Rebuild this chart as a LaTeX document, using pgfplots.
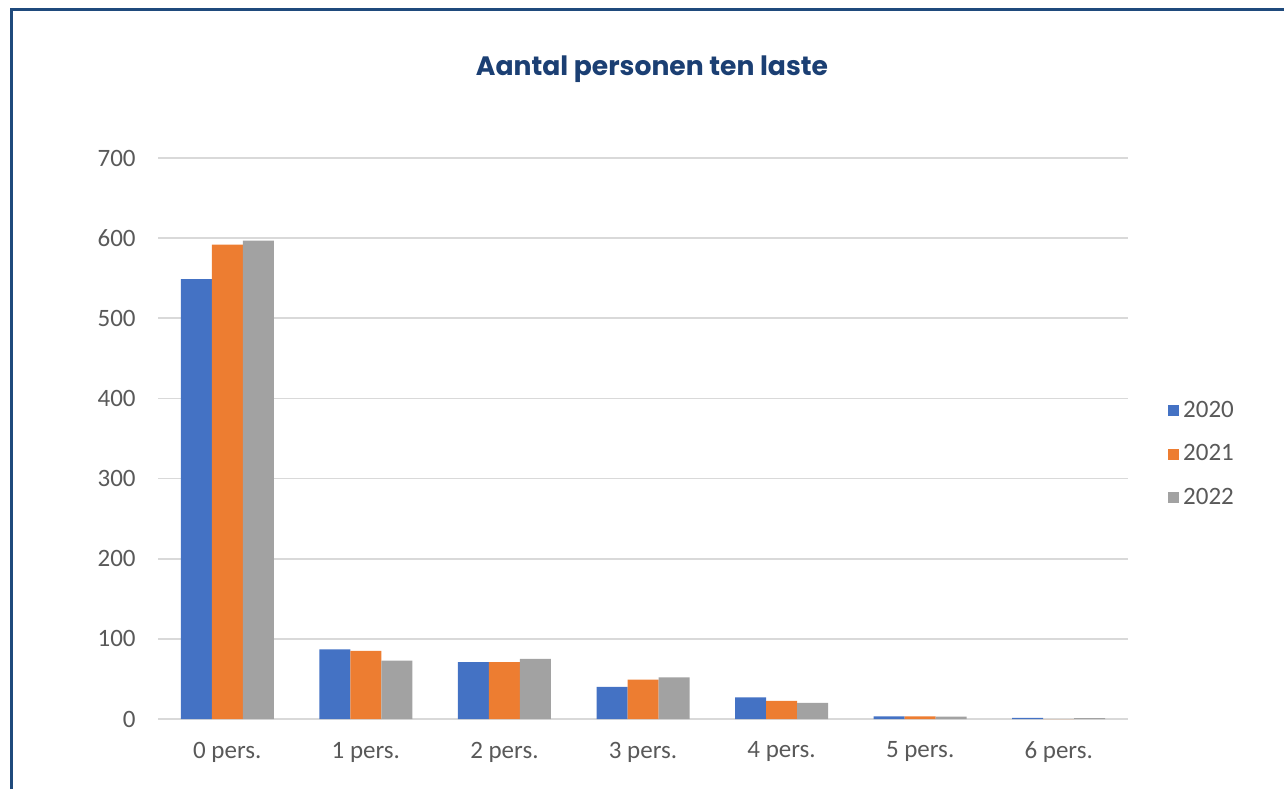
\documentclass[border=0pt]{standalone}
\usepackage{pgfplots}
\pgfplotsset{compat=1.18}
\usepackage{fontspec}
\setmainfont{Carlito}
\newfontfamily\titlefont{Poppins}
\definecolor{cblue}{HTML}{4472C4}
\definecolor{corange}{HTML}{ED7D31}
\definecolor{cgray}{HTML}{A2A2A2}
\definecolor{grid}{HTML}{D9D9D9}
\definecolor{txt}{HTML}{595959}
\definecolor{navy}{HTML}{1B3F73}
\definecolor{frame}{HTML}{1F4A7C}
\begin{document}
\begin{tikzpicture}
\draw[line width=1.5pt, color=frame] (5.75pt,0pt) -- (5.75pt,389.5pt) -- (642pt,389.5pt);
\node[font=\titlefont\bfseries\fontsize{13.3}{15}\selectfont, text=navy] at (326pt,360pt) {Aantal personen ten laste};
\begin{axis}[
  at={(79pt,35pt)}, anchor=south west,
  scale only axis, width=485pt, height=280.5pt,
  ybar=0pt, bar width=15.5pt,
  xmin=-0.5, xmax=6.5, ymin=0, ymax=700,
  ytick={0,100,...,700},
  xtick=data,
  xticklabels={0 pers.,1 pers.,2 pers.,3 pers.,4 pers.,5 pers.,6 pers.},
  axis line style={draw=none},
  major tick style={draw=none},
  ymajorgrids, grid style={color=grid, line width=0.8pt},
  /pgf/number format/assume math mode=true,
  ticklabel style={font=\fontsize{12.5}{14}\selectfont, text=txt},
  yticklabel style={inner sep=0pt, xshift=-11pt},
  xticklabel style={inner sep=0pt, yshift=-7pt},
  legend style={at={(1.041,0.472)}, anchor=west, draw=none, fill=none,
    font=\fontsize{12.5}{14}\selectfont, text=txt, row sep=8pt,
    inner sep=0pt},
  legend cell align=left,
  legend image code/.code={\fill[#1] (0pt,-2.75pt) rectangle (5.5pt,2.75pt);},
]
\addplot[fill=cblue, draw=none] coordinates {(0,549) (1,87) (2,71) (3,40) (4,27) (5,3.3) (6,1.3)};
\addplot[fill=corange, draw=none] coordinates {(0,592) (1,85) (2,71) (3,49) (4,22.5) (5,3.3) (6,0)};
\addplot[fill=cgray, draw=none] coordinates {(0,597) (1,73) (2,75) (3,52) (4,20) (5,3) (6,1)};
\legend{2020,2021,2022}
\end{axis}
\pgfresetboundingbox
\useasboundingbox (0pt,0pt) rectangle (642pt,394.5pt);
\end{tikzpicture}
\end{document}
